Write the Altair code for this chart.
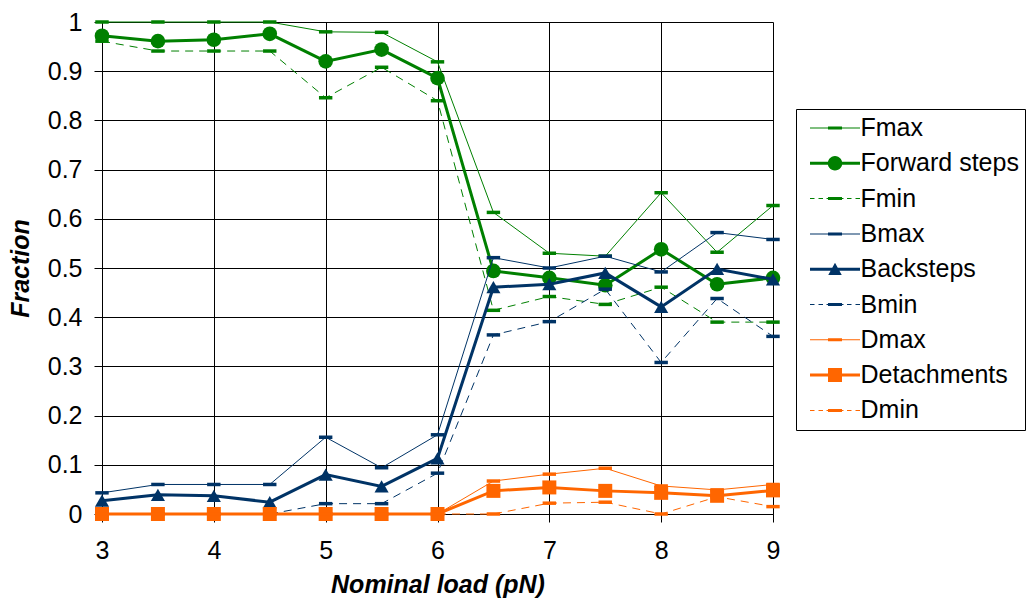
import math
import altair as alt
import pandas as pd

# ---------------- data ----------------
loads = [3, 3.5, 4, 4.5, 5, 5.5, 6, 6.5, 7, 7.5, 8, 8.5, 9]

fmax = [1.0, 1.0, 1.0, 1.0, 0.980, 0.979, 0.919, 0.613, 0.530, 0.524, 0.653, 0.532, 0.627]
forward = [0.972, 0.961, 0.964, 0.976, 0.920, 0.944, 0.886, 0.494, 0.480, 0.465, 0.538, 0.467, 0.480]
fmin = [0.961, 0.941, 0.941, 0.941, 0.846, 0.908, 0.840, 0.414, 0.442, 0.426, 0.461, 0.390, 0.390]

bmax = [0.043, 0.060, 0.060, 0.060, 0.156, 0.094, 0.161, 0.521, 0.500, 0.524, 0.492, 0.572, 0.558]
backsteps = [0.027, 0.039, 0.037, 0.024, 0.080, 0.056, 0.113, 0.461, 0.467, 0.490, 0.421, 0.498, 0.477]
bmin = [0.0, 0.0, 0.0, 0.0, 0.021, 0.021, 0.083, 0.364, 0.391, 0.457, 0.308, 0.438, 0.361]

dmax = [0.0, 0.0, 0.0, 0.0, 0.0, 0.0, 0.0, 0.067, 0.081, 0.093, 0.057, 0.049, 0.060]
detachments = [0.0, 0.0, 0.0, 0.0, 0.0, 0.0, 0.0, 0.047, 0.054, 0.047, 0.043, 0.037, 0.048]
dmin = [0.0, 0.0, 0.0, 0.0, 0.0, 0.0, 0.0, 0.0, 0.022, 0.024, 0.0, 0.035, 0.015]

series_names = ["Fmax", "Forward steps", "Fmin", "Bmax", "Backsteps", "Bmin",
                "Dmax", "Detachments", "Dmin"]
series_values = [fmax, forward, fmin, bmax, backsteps, bmin, dmax, detachments, dmin]

x_ticks = [3, 4, 5, 6, 7, 8, 9]
y_ticks = [0, 0.1, 0.2, 0.3, 0.4, 0.5, 0.6, 0.7, 0.8, 0.9, 1]

x_title = "Nominal load (pN)"
y_title = "Fraction"

# ---------------- styles ----------------
FONT = "Liberation Sans"
GREEN = "#008000"
NAVY = "#003366"
ORANGE = "#FF6600"


def rect(x1, x2, y1, y2):
    return f"M{x1:.3f},{y1:.3f}H{x2:.3f}V{y2:.3f}H{x1:.3f}Z"


def circle(r, n=28):
    pts = []
    for i in range(n):
        t = 2 * math.pi * i / n
        pts.append(f"{r * math.cos(t):.3f},{r * math.sin(t):.3f}")
    return "M" + "L".join(pts) + "Z"


BAR_MARK = "M-1,-0.26H1V0.26H-1Z"

# legend symbols (units scaled by sqrt(size)/2)
leg_bar = rect(-1.4, 1.4, -0.3, 0.3)
leg_thin = rect(-5, 5, -0.1, 0.1)
leg_thick = rect(-5, 5, -0.3, 0.3)
leg_dash = "".join(rect(a, b, -0.1, 0.1) for a, b in
                   [(-5, -4.1), (-3.3, -2.4), (-1.7, -1.4), (1.4, 1.7), (2.4, 3.3), (4.1, 5)])
leg_circle = circle(1.45)
leg_tri = "M0,-1.3L1.35,1.15L-1.35,1.15Z"
leg_square = rect(-1.4, 1.4, -1.4, 1.4)

styles = {
    "Fmax": dict(color=GREEN, width=1, dash=None, shape=BAR_MARK, size=180, leg=leg_thin + leg_bar),
    "Forward steps": dict(color=GREEN, width=3, dash=None, shape="circle", size=215, leg=leg_thick + leg_circle),
    "Fmin": dict(color=GREEN, width=1, dash=[8, 6], shape=BAR_MARK, size=180, leg=leg_dash + leg_bar),
    "Bmax": dict(color=NAVY, width=1, dash=None, shape=BAR_MARK, size=180, leg=leg_thin + leg_bar),
    "Backsteps": dict(color=NAVY, width=3, dash=None, shape="triangle-up", size=200, leg=leg_thick + leg_tri),
    "Bmin": dict(color=NAVY, width=1, dash=[8, 6], shape=BAR_MARK, size=180, leg=leg_dash + leg_bar),
    "Dmax": dict(color=ORANGE, width=1, dash=None, shape=BAR_MARK, size=180, leg=leg_thin + leg_bar),
    "Detachments": dict(color=ORANGE, width=3, dash=None, shape="square", size=196, leg=leg_thick + leg_square),
    "Dmin": dict(color=ORANGE, width=1, dash=[8, 6], shape=BAR_MARK, size=180, leg=leg_dash + leg_bar),
}

rows = []
for name, vals in zip(series_names, series_values):
    for xv, yv in zip(loads, vals):
        rows.append({"load": xv, "value": yv, "series": name})
df = pd.DataFrame(rows)

X = alt.X("load:Q", scale=alt.Scale(domain=[3, 9], nice=False, zero=False),
          axis=alt.Axis(values=x_ticks, title=x_title, labelPadding=16, titlePadding=9,
                        labelFlush=False, labelOverlap=False))
Y = alt.Y("value:Q", scale=alt.Scale(domain=[0, 1], nice=False),
          axis=alt.Axis(values=y_ticks, title=y_title, format="~g", labelPadding=12,
                        titlePadding=14, labelOverlap=False, labelFlush=False))

layers = []
for name in series_names:
    s = styles[name]
    base = alt.Chart(df).transform_filter(alt.datum.series == name)
    line_kw = dict(color=s["color"], strokeWidth=s["width"])
    if s["dash"]:
        line_kw["strokeDash"] = s["dash"]
    layers.append(base.mark_line(**line_kw).encode(x=X, y=Y))
    layers.append(base.mark_point(shape=s["shape"], size=s["size"], filled=True,
                                  color=s["color"], opacity=1, strokeWidth=0).encode(x=X, y=Y))

legend = alt.Legend(
    title=None, orient="none", legendX=694, legendY=87,
    symbolSize=100, symbolOffset=20.5, labelOffset=13, symbolOpacity=1, symbolStrokeWidth=0,
    clipHeight=26, rowPadding=9.3, padding=6, strokeColor="black", fillColor="white",
    labelFont=FONT, labelFontSize=25, labelColor="black", labelLimit=400,
)
legend_layer = alt.Chart(df).mark_point(filled=True, opacity=0, size=100, strokeWidth=0).encode(
    x=X, y=Y,
    shape=alt.Shape("series:N", scale=alt.Scale(domain=series_names,
                                                range=[styles[n]["leg"] for n in series_names]),
                    legend=legend),
    fill=alt.Fill("series:N", scale=alt.Scale(domain=series_names,
                                              range=[styles[n]["color"] for n in series_names]),
                  legend=legend),
)

chart = alt.layer(*layers, legend_layer).properties(
    width=671, height=492,
    padding={"left": 102, "top": 22, "right": 253, "bottom": 96},
    autosize=alt.AutoSizeParams(type="none"),
    background="white",
).configure_view(strokeWidth=0).configure_axis(
    grid=True, gridColor="black", gridOpacity=1, gridWidth=1,
    domainColor="black", domainWidth=1, tickColor="black", tickSize=8, tickWidth=1,
    labelFont=FONT, labelFontSize=25, labelColor="black",
    titleFont=FONT, titleFontSize=25, titleFontWeight="bold", titleFontStyle="italic",
    titleColor="black",
)

chart.save("out.html", embed_options={"renderer": "svg", "actions": False})
